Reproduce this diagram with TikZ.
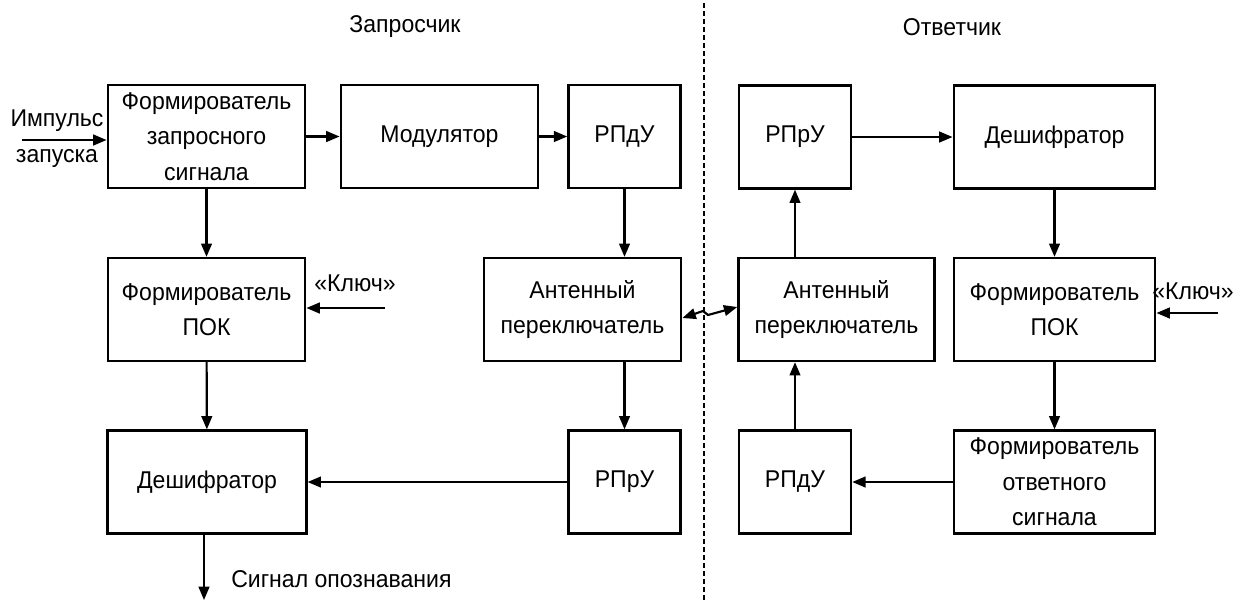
\documentclass[tikz,border=0pt]{standalone}
\usepackage{fontspec}
\setmainfont[FakeStretch=0.95]{Liberation Sans}
\usetikzlibrary{arrows.meta}

\begin{document}
\begin{tikzpicture}[
  x=0.75pt, y=-0.75pt,
  font=\fontsize{18.2pt}{26.5pt}\selectfont,
  block/.style={draw, line width=1.9pt, inner sep=0pt, align=center,
    minimum height=77pt},
  wide/.style={block, minimum width=148pt},
  narrow/.style={block, minimum width=84pt},
  link/.style={line width=1.6pt, -{Triangle[length=10pt,width=8pt]}},
  dlink/.style={line width=1.6pt, {Triangle[length=10pt,width=8pt]}-{Triangle[length=10pt,width=8pt]}},
  divider/.style={line width=1.5pt, dash pattern=on 3.5pt off 2.5pt},
  lbl/.style={inner sep=0pt, align=center}
]
\useasboundingbox (0,0) rectangle (1240,601);

% interrogator side
\node[wide]   (f1)   at (206.5,136.5) {Формирователь\\запросного\\сигнала};
\node[wide]   (mod)  at (439.5,136.5) {Модулятор};
\node[narrow] (tx1)  at (624.5,136.5) {РПдУ};
\node[wide]   (pok1) at (206.5,309.5) {Формирователь\\ПОК};
\node[wide]   (ant1) at (582.5,309.5) {Антенный\\переключатель};
\node[wide, minimum width=149pt] (dec1) at (207,482) {Дешифратор};
\node[narrow] (rx1)  at (624.5,482) {РПрУ};

% transponder side
\node[narrow] (rx2)  at (795,137) {РПрУ};
\node[block, minimum width=151pt] (dec2) at (1054.5,137) {Дешифратор};
\node[wide, minimum width=147pt] (ant2) at (836.5,309.5) {Антенный\\переключатель};
\node[block, minimum width=151pt] (pok2) at (1054.5,309.5) {Формирователь\\ПОК};
\node[narrow] (tx2)  at (795,482) {РПдУ};
\node[block, minimum width=151pt] (f2) at (1054.5,482) {Формирователь\\ответного\\сигнала};

% headings
\node[lbl] (hq) at (405,27) {Запросчик};
\node[lbl] (ha) at (952,27) {Ответчик};

% divider between the two stations
\coordinate (dtop) at (704,3);
\coordinate (dbot) at (704,601);
\draw[divider] (dtop) -- (dbot);

% start pulse input
\coordinate (in) at (22,140);
\node[lbl] (inA) at (57,121) {Импульс};
\node[lbl] (inB) at (57,158) {запуска};
\draw[link] (in) -- (in -| f1.west);

% interrogator chain
\draw[link] (f1) -- (mod);
\draw[link] (mod) -- (tx1);
\draw[link] (f1) -- (pok1);
\draw[link] (pok1) -- (dec1);
\draw[link] (tx1.south) -- (tx1.south |- ant1.north);
\draw[link] (ant1.south -| rx1.north) -- (rx1.north);
\draw[link] (rx1.west) -- (rx1.west -| dec1.east);

% key input, interrogator
\coordinate (k1) at (385,308);
\node[lbl] (k1l) at (355,283) {«Ключ»};
\draw[link] (k1) -- (k1 -| pok1.east);

% identification output
\coordinate (out) at (204,600);
\draw[link] (dec1.south -| out) -- (out);
\node[lbl, anchor=west] (outl) at (231,579) {Сигнал опознавания};

% radio link between antenna switches
\coordinate (z1) at (703,311);
\coordinate (z2) at (708,315);
\draw[dlink] (ant1.east |- 0,318) -- (z1) -- (z2) -- (ant2.west |- 0,307);

% transponder chain
\draw[link] (rx2) -- (dec2);
\draw[link] (dec2) -- (pok2);
\draw[link] (pok2) -- (f2);
\draw[link] (f2.west) -- (f2.west -| tx2.east);
\draw[link] (tx2.north) -- (tx2.north |- ant2.south);
\draw[link] (ant2.north -| rx2.south) -- (rx2.south);

% key input, transponder
\coordinate (k2) at (1218,313);
\node[lbl] (k2l) at (1193,291) {«Ключ»};
\draw[link] (k2) -- (k2 -| pok2.east);
\end{tikzpicture}
\end{document}
